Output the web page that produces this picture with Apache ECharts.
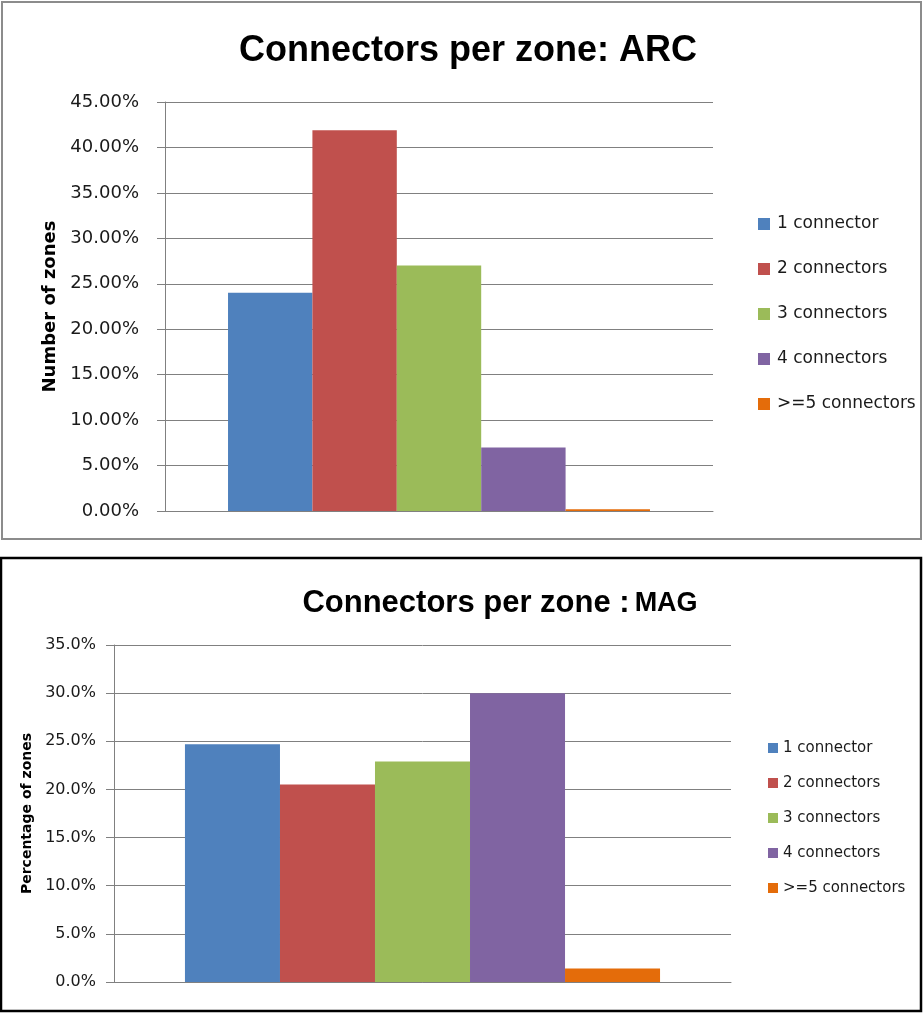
<!DOCTYPE html>
<html>
<head>
<meta charset="utf-8">
<script src="https://cdn.jsdelivr.net/npm/echarts@6/dist/echarts.min.js"></script>
<style>
  html, body { margin: 0; padding: 0; background: #fff; }
  #chart { width: 923px; height: 1013px; }
</style>
</head>
<body>
<div id="chart"></div>
<script>
// series names, shared by both panels
const seriesNames = ['1 connector', '2 connectors', '3 connectors', '4 connectors', '>=5 connectors']
// share of zones (%)
const arcShare = [24.0, 41.9, 27.0, 7.0, 0.2]
const magShare = [24.7, 20.5, 22.9, 30.0, 1.4]
const arcAxis = { min: 0, max: 45, interval: 5 }
const magAxis = { min: 0, max: 35, interval: 5 }
const colors = ['#4F81BD', '#C0504D', '#9BBB59', '#8064A2', '#E46C0A']

const gridColor = '#808080'
const txt = '#1a1a1a'

function valueAxis (gridIndex, range, digits, labelSize, margin, name, nameSize, nameGap) {
  return {
    type: 'value',
    gridIndex,
    min: range.min,
    max: range.max,
    interval: range.interval,
    name,
    nameLocation: 'middle',
    nameGap,
    nameTextStyle: { fontFamily: 'DejaVu Sans', fontWeight: 'bold', fontSize: nameSize, color: '#000' },
    axisLine: { show: true, lineStyle: { color: gridColor, width: 1 } },
    axisTick: { show: true, inside: false, length: 8, lineStyle: { color: gridColor, width: 1 } },
    axisLabel: {
      margin,
      fontFamily: 'DejaVu Sans',
      fontSize: labelSize,
      color: txt,
      formatter: v => v.toFixed(digits) + '%'
    },
    splitLine: { show: true, lineStyle: { color: gridColor, width: 1 } }
  }
}

function catAxis (gridIndex) {
  return {
    type: 'category',
    gridIndex,
    data: [''],
    axisLine: { show: true, lineStyle: { color: gridColor, width: 1 } },
    axisTick: { show: false },
    axisLabel: { show: false }
  }
}

function bars (axisIndex, values) {
  return seriesNames.map((name, i) => ({
    name,
    type: 'bar',
    xAxisIndex: axisIndex,
    yAxisIndex: axisIndex,
    data: [values[i]],
    barGap: '0%',
    barCategoryGap: '23%',
    itemStyle: { color: colors[i] }
  }))
}

const chart = echarts.init(document.getElementById('chart'))
chart.setOption({
  animation: false,
  title: [
    {
      text: 'Connectors per zone: ARC',
      left: 463,
      top: 28,
      textAlign: 'center',
      textStyle: { fontFamily: 'Liberation Sans', fontWeight: 'bold', fontSize: 36, color: '#000' }
    },
    {
      text: '{a|Connectors per zone :} {b|MAG}',
      left: 495,
      top: 583,
      textAlign: 'center',
      textStyle: {
        rich: {
          a: { fontFamily: 'Liberation Sans', fontWeight: 'bold', fontSize: 31, color: '#000' },
          b: { fontFamily: 'Liberation Sans', fontWeight: 'bold', fontSize: 27, color: '#000' }
        }
      }
    }
  ],
  legend: [
    {
      data: seriesNames,
      orient: 'vertical',
      left: 753,
      top: 209,
      icon: 'rect',
      itemWidth: 12,
      itemHeight: 12,
      itemGap: 25,
      selectedMode: false,
      textStyle: { fontFamily: 'DejaVu Sans', fontSize: 17, lineHeight: 20, color: txt, padding: [0, 0, 0, 2] }
    },
    {
      data: seriesNames,
      orient: 'vertical',
      left: 763,
      top: 734,
      icon: 'rect',
      itemWidth: 10,
      itemHeight: 10,
      itemGap: 17,
      selectedMode: false,
      textStyle: { fontFamily: 'DejaVu Sans', fontSize: 15, lineHeight: 18, color: txt }
    }
  ],
  grid: [
    { left: 165, top: 102, width: 548, height: 409 },
    { left: 114, top: 645, width: 617, height: 337 }
  ],
  xAxis: [catAxis(0), catAxis(1)],
  yAxis: [
    valueAxis(0, arcAxis, 2, 18, 26, 'Number of zones', 18, 106),
    valueAxis(1, magAxis, 1, 16, 18, 'Percentage of zones', 14, 79)
  ],
  series: [...bars(0, arcShare), ...bars(1, magShare)],
  graphic: [
    {
      type: 'rect',
      silent: true,
      shape: { x: 2, y: 2, width: 919, height: 537 },
      style: { fill: null, stroke: '#8c8c8c', lineWidth: 2 }
    },
    {
      type: 'rect',
      silent: true,
      shape: { x: 1, y: 558, width: 920, height: 453 },
      style: { fill: null, stroke: '#000', lineWidth: 2.5 }
    }
  ]
})
</script>
</body>
</html>
